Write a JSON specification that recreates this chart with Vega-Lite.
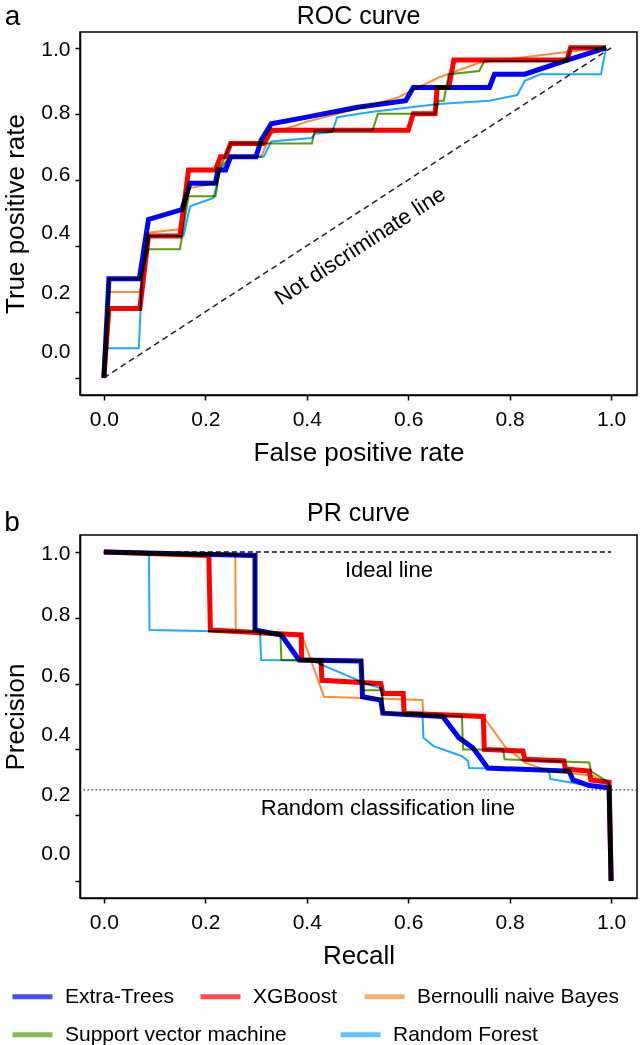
{
  "$schema": "https://vega.github.io/schema/vega-lite/v6.json",
  "padding": {"left": 2, "top": 2, "right": 2, "bottom": 2},
  "background": "white",
  "datasets": {
    "roc": [
      {"model": "Extra-Trees", "step": 0, "fpr": 0, "tpr": 0},
      {"model": "Extra-Trees", "step": 1, "fpr": 0.01, "tpr": 0.30},
      {"model": "Extra-Trees", "step": 2, "fpr": 0.07, "tpr": 0.30},
      {"model": "Extra-Trees", "step": 3, "fpr": 0.088, "tpr": 0.48},
      {"model": "Extra-Trees", "step": 4, "fpr": 0.154, "tpr": 0.51},
      {"model": "Extra-Trees", "step": 5, "fpr": 0.17, "tpr": 0.59},
      {"model": "Extra-Trees", "step": 6, "fpr": 0.22, "tpr": 0.59},
      {"model": "Extra-Trees", "step": 7, "fpr": 0.225, "tpr": 0.63},
      {"model": "Extra-Trees", "step": 8, "fpr": 0.24, "tpr": 0.63},
      {"model": "Extra-Trees", "step": 9, "fpr": 0.25, "tpr": 0.67},
      {"model": "Extra-Trees", "step": 10, "fpr": 0.30, "tpr": 0.67},
      {"model": "Extra-Trees", "step": 11, "fpr": 0.31, "tpr": 0.72},
      {"model": "Extra-Trees", "step": 12, "fpr": 0.33, "tpr": 0.77},
      {"model": "Extra-Trees", "step": 13, "fpr": 0.40, "tpr": 0.79},
      {"model": "Extra-Trees", "step": 14, "fpr": 0.50, "tpr": 0.82},
      {"model": "Extra-Trees", "step": 15, "fpr": 0.595, "tpr": 0.84},
      {"model": "Extra-Trees", "step": 16, "fpr": 0.61, "tpr": 0.88},
      {"model": "Extra-Trees", "step": 17, "fpr": 0.76, "tpr": 0.88},
      {"model": "Extra-Trees", "step": 18, "fpr": 0.77, "tpr": 0.92},
      {"model": "Extra-Trees", "step": 19, "fpr": 0.83, "tpr": 0.92},
      {"model": "Extra-Trees", "step": 20, "fpr": 0.907, "tpr": 0.96},
      {"model": "Extra-Trees", "step": 21, "fpr": 0.99, "tpr": 1.0},
      {"model": "XGBoost", "step": 0, "fpr": 0, "tpr": 0},
      {"model": "XGBoost", "step": 1, "fpr": 0.01, "tpr": 0.21},
      {"model": "XGBoost", "step": 2, "fpr": 0.071, "tpr": 0.21},
      {"model": "XGBoost", "step": 3, "fpr": 0.088, "tpr": 0.43},
      {"model": "XGBoost", "step": 4, "fpr": 0.15, "tpr": 0.43},
      {"model": "XGBoost", "step": 5, "fpr": 0.167, "tpr": 0.63},
      {"model": "XGBoost", "step": 6, "fpr": 0.22, "tpr": 0.63},
      {"model": "XGBoost", "step": 7, "fpr": 0.23, "tpr": 0.67},
      {"model": "XGBoost", "step": 8, "fpr": 0.24, "tpr": 0.67},
      {"model": "XGBoost", "step": 9, "fpr": 0.25, "tpr": 0.71},
      {"model": "XGBoost", "step": 10, "fpr": 0.315, "tpr": 0.71},
      {"model": "XGBoost", "step": 11, "fpr": 0.33, "tpr": 0.75},
      {"model": "XGBoost", "step": 12, "fpr": 0.60, "tpr": 0.75},
      {"model": "XGBoost", "step": 13, "fpr": 0.61, "tpr": 0.80},
      {"model": "XGBoost", "step": 14, "fpr": 0.653, "tpr": 0.80},
      {"model": "XGBoost", "step": 15, "fpr": 0.657, "tpr": 0.88},
      {"model": "XGBoost", "step": 16, "fpr": 0.68, "tpr": 0.88},
      {"model": "XGBoost", "step": 17, "fpr": 0.69, "tpr": 0.963},
      {"model": "XGBoost", "step": 18, "fpr": 0.913, "tpr": 0.963},
      {"model": "XGBoost", "step": 19, "fpr": 0.92, "tpr": 1.0},
      {"model": "XGBoost", "step": 20, "fpr": 0.99, "tpr": 1.0},
      {"model": "Bernoulli naive Bayes", "step": 0, "fpr": 0, "tpr": 0},
      {"model": "Bernoulli naive Bayes", "step": 1, "fpr": 0.01, "tpr": 0.26},
      {"model": "Bernoulli naive Bayes", "step": 2, "fpr": 0.071, "tpr": 0.26},
      {"model": "Bernoulli naive Bayes", "step": 3, "fpr": 0.088, "tpr": 0.44},
      {"model": "Bernoulli naive Bayes", "step": 4, "fpr": 0.148, "tpr": 0.45},
      {"model": "Bernoulli naive Bayes", "step": 5, "fpr": 0.17, "tpr": 0.575},
      {"model": "Bernoulli naive Bayes", "step": 6, "fpr": 0.22, "tpr": 0.59},
      {"model": "Bernoulli naive Bayes", "step": 7, "fpr": 0.23, "tpr": 0.64},
      {"model": "Bernoulli naive Bayes", "step": 8, "fpr": 0.25, "tpr": 0.67},
      {"model": "Bernoulli naive Bayes", "step": 9, "fpr": 0.31, "tpr": 0.67},
      {"model": "Bernoulli naive Bayes", "step": 10, "fpr": 0.33, "tpr": 0.74},
      {"model": "Bernoulli naive Bayes", "step": 11, "fpr": 0.40, "tpr": 0.776},
      {"model": "Bernoulli naive Bayes", "step": 12, "fpr": 0.50, "tpr": 0.815},
      {"model": "Bernoulli naive Bayes", "step": 13, "fpr": 0.58, "tpr": 0.85},
      {"model": "Bernoulli naive Bayes", "step": 14, "fpr": 0.66, "tpr": 0.91},
      {"model": "Bernoulli naive Bayes", "step": 15, "fpr": 0.74, "tpr": 0.955},
      {"model": "Bernoulli naive Bayes", "step": 16, "fpr": 0.90, "tpr": 0.985},
      {"model": "Bernoulli naive Bayes", "step": 17, "fpr": 0.99, "tpr": 1.0},
      {"model": "Support vector machine", "step": 0, "fpr": 0, "tpr": 0},
      {"model": "Support vector machine", "step": 1, "fpr": 0.01, "tpr": 0.30},
      {"model": "Support vector machine", "step": 2, "fpr": 0.071, "tpr": 0.30},
      {"model": "Support vector machine", "step": 3, "fpr": 0.088, "tpr": 0.39},
      {"model": "Support vector machine", "step": 4, "fpr": 0.15, "tpr": 0.39},
      {"model": "Support vector machine", "step": 5, "fpr": 0.167, "tpr": 0.55},
      {"model": "Support vector machine", "step": 6, "fpr": 0.22, "tpr": 0.55},
      {"model": "Support vector machine", "step": 7, "fpr": 0.23, "tpr": 0.64},
      {"model": "Support vector machine", "step": 8, "fpr": 0.25, "tpr": 0.71},
      {"model": "Support vector machine", "step": 9, "fpr": 0.41, "tpr": 0.71},
      {"model": "Support vector machine", "step": 10, "fpr": 0.416, "tpr": 0.75},
      {"model": "Support vector machine", "step": 11, "fpr": 0.53, "tpr": 0.75},
      {"model": "Support vector machine", "step": 12, "fpr": 0.54, "tpr": 0.80},
      {"model": "Support vector machine", "step": 13, "fpr": 0.653, "tpr": 0.80},
      {"model": "Support vector machine", "step": 14, "fpr": 0.66, "tpr": 0.84},
      {"model": "Support vector machine", "step": 15, "fpr": 0.67, "tpr": 0.84},
      {"model": "Support vector machine", "step": 16, "fpr": 0.68, "tpr": 0.92},
      {"model": "Support vector machine", "step": 17, "fpr": 0.74, "tpr": 0.93},
      {"model": "Support vector machine", "step": 18, "fpr": 0.75, "tpr": 0.96},
      {"model": "Support vector machine", "step": 19, "fpr": 0.913, "tpr": 0.96},
      {"model": "Support vector machine", "step": 20, "fpr": 0.92, "tpr": 1.0},
      {"model": "Support vector machine", "step": 21, "fpr": 0.99, "tpr": 1.0},
      {"model": "Random Forest", "step": 0, "fpr": 0, "tpr": 0},
      {"model": "Random Forest", "step": 1, "fpr": 0.006, "tpr": 0.09},
      {"model": "Random Forest", "step": 2, "fpr": 0.069, "tpr": 0.09},
      {"model": "Random Forest", "step": 3, "fpr": 0.075, "tpr": 0.30},
      {"model": "Random Forest", "step": 4, "fpr": 0.09, "tpr": 0.43},
      {"model": "Random Forest", "step": 5, "fpr": 0.157, "tpr": 0.43},
      {"model": "Random Forest", "step": 6, "fpr": 0.17, "tpr": 0.52},
      {"model": "Random Forest", "step": 7, "fpr": 0.216, "tpr": 0.545},
      {"model": "Random Forest", "step": 8, "fpr": 0.23, "tpr": 0.63},
      {"model": "Random Forest", "step": 9, "fpr": 0.25, "tpr": 0.67},
      {"model": "Random Forest", "step": 10, "fpr": 0.315, "tpr": 0.67},
      {"model": "Random Forest", "step": 11, "fpr": 0.33, "tpr": 0.716},
      {"model": "Random Forest", "step": 12, "fpr": 0.41, "tpr": 0.727},
      {"model": "Random Forest", "step": 13, "fpr": 0.416, "tpr": 0.74},
      {"model": "Random Forest", "step": 14, "fpr": 0.45, "tpr": 0.745},
      {"model": "Random Forest", "step": 15, "fpr": 0.46, "tpr": 0.79},
      {"model": "Random Forest", "step": 16, "fpr": 0.53, "tpr": 0.806},
      {"model": "Random Forest", "step": 17, "fpr": 0.66, "tpr": 0.83},
      {"model": "Random Forest", "step": 18, "fpr": 0.76, "tpr": 0.84},
      {"model": "Random Forest", "step": 19, "fpr": 0.815, "tpr": 0.857},
      {"model": "Random Forest", "step": 20, "fpr": 0.83, "tpr": 0.90},
      {"model": "Random Forest", "step": 21, "fpr": 0.86, "tpr": 0.92},
      {"model": "Random Forest", "step": 22, "fpr": 0.98, "tpr": 0.92},
      {"model": "Random Forest", "step": 23, "fpr": 0.99, "tpr": 1.0}
    ],
    "pr": [
      {"model": "Extra-Trees", "step": 0, "recall": 0, "precision": 1.0},
      {"model": "Extra-Trees", "step": 1, "recall": 0.15, "precision": 0.995},
      {"model": "Extra-Trees", "step": 2, "recall": 0.298, "precision": 0.99},
      {"model": "Extra-Trees", "step": 3, "recall": 0.298, "precision": 0.763},
      {"model": "Extra-Trees", "step": 4, "recall": 0.35, "precision": 0.748},
      {"model": "Extra-Trees", "step": 5, "recall": 0.385, "precision": 0.672},
      {"model": "Extra-Trees", "step": 6, "recall": 0.507, "precision": 0.669},
      {"model": "Extra-Trees", "step": 7, "recall": 0.51, "precision": 0.56},
      {"model": "Extra-Trees", "step": 8, "recall": 0.546, "precision": 0.55},
      {"model": "Extra-Trees", "step": 9, "recall": 0.55, "precision": 0.51},
      {"model": "Extra-Trees", "step": 10, "recall": 0.668, "precision": 0.50},
      {"model": "Extra-Trees", "step": 11, "recall": 0.70, "precision": 0.435},
      {"model": "Extra-Trees", "step": 12, "recall": 0.728, "precision": 0.404},
      {"model": "Extra-Trees", "step": 13, "recall": 0.757, "precision": 0.343},
      {"model": "Extra-Trees", "step": 14, "recall": 0.917, "precision": 0.334},
      {"model": "Extra-Trees", "step": 15, "recall": 0.925, "precision": 0.307},
      {"model": "Extra-Trees", "step": 16, "recall": 0.957, "precision": 0.29},
      {"model": "Extra-Trees", "step": 17, "recall": 0.996, "precision": 0.283},
      {"model": "Extra-Trees", "step": 18, "recall": 1.0, "precision": 0.0},
      {"model": "XGBoost", "step": 0, "recall": 0, "precision": 1.0},
      {"model": "XGBoost", "step": 1, "recall": 0.207, "precision": 0.99},
      {"model": "XGBoost", "step": 2, "recall": 0.21, "precision": 0.763},
      {"model": "XGBoost", "step": 3, "recall": 0.389, "precision": 0.748},
      {"model": "XGBoost", "step": 4, "recall": 0.39, "precision": 0.672},
      {"model": "XGBoost", "step": 5, "recall": 0.428, "precision": 0.67},
      {"model": "XGBoost", "step": 6, "recall": 0.43, "precision": 0.61},
      {"model": "XGBoost", "step": 7, "recall": 0.546, "precision": 0.60},
      {"model": "XGBoost", "step": 8, "recall": 0.55, "precision": 0.57},
      {"model": "XGBoost", "step": 9, "recall": 0.59, "precision": 0.57},
      {"model": "XGBoost", "step": 10, "recall": 0.592, "precision": 0.51},
      {"model": "XGBoost", "step": 11, "recall": 0.748, "precision": 0.50},
      {"model": "XGBoost", "step": 12, "recall": 0.75, "precision": 0.40},
      {"model": "XGBoost", "step": 13, "recall": 0.826, "precision": 0.395},
      {"model": "XGBoost", "step": 14, "recall": 0.83, "precision": 0.37},
      {"model": "XGBoost", "step": 15, "recall": 0.907, "precision": 0.365},
      {"model": "XGBoost", "step": 16, "recall": 0.91, "precision": 0.34},
      {"model": "XGBoost", "step": 17, "recall": 0.957, "precision": 0.334},
      {"model": "XGBoost", "step": 18, "recall": 0.96, "precision": 0.307},
      {"model": "XGBoost", "step": 19, "recall": 0.996, "precision": 0.30},
      {"model": "XGBoost", "step": 20, "recall": 1.0, "precision": 0.0},
      {"model": "Bernoulli naive Bayes", "step": 0, "recall": 0, "precision": 1.0},
      {"model": "Bernoulli naive Bayes", "step": 1, "recall": 0.259, "precision": 0.995},
      {"model": "Bernoulli naive Bayes", "step": 2, "recall": 0.26, "precision": 0.763},
      {"model": "Bernoulli naive Bayes", "step": 3, "recall": 0.39, "precision": 0.75},
      {"model": "Bernoulli naive Bayes", "step": 4, "recall": 0.434, "precision": 0.56},
      {"model": "Bernoulli naive Bayes", "step": 5, "recall": 0.628, "precision": 0.55},
      {"model": "Bernoulli naive Bayes", "step": 6, "recall": 0.63, "precision": 0.50},
      {"model": "Bernoulli naive Bayes", "step": 7, "recall": 0.748, "precision": 0.50},
      {"model": "Bernoulli naive Bayes", "step": 8, "recall": 0.79, "precision": 0.41},
      {"model": "Bernoulli naive Bayes", "step": 9, "recall": 0.83, "precision": 0.36},
      {"model": "Bernoulli naive Bayes", "step": 10, "recall": 0.877, "precision": 0.334},
      {"model": "Bernoulli naive Bayes", "step": 11, "recall": 0.964, "precision": 0.32},
      {"model": "Bernoulli naive Bayes", "step": 12, "recall": 0.996, "precision": 0.29},
      {"model": "Bernoulli naive Bayes", "step": 13, "recall": 1.0, "precision": 0.0},
      {"model": "Support vector machine", "step": 0, "recall": 0, "precision": 1.0},
      {"model": "Support vector machine", "step": 1, "recall": 0.298, "precision": 0.99},
      {"model": "Support vector machine", "step": 2, "recall": 0.298, "precision": 0.763},
      {"model": "Support vector machine", "step": 3, "recall": 0.348, "precision": 0.75},
      {"model": "Support vector machine", "step": 4, "recall": 0.35, "precision": 0.672},
      {"model": "Support vector machine", "step": 5, "recall": 0.508, "precision": 0.669},
      {"model": "Support vector machine", "step": 6, "recall": 0.51, "precision": 0.58},
      {"model": "Support vector machine", "step": 7, "recall": 0.548, "precision": 0.58},
      {"model": "Support vector machine", "step": 8, "recall": 0.55, "precision": 0.51},
      {"model": "Support vector machine", "step": 9, "recall": 0.706, "precision": 0.50},
      {"model": "Support vector machine", "step": 10, "recall": 0.708, "precision": 0.40},
      {"model": "Support vector machine", "step": 11, "recall": 0.787, "precision": 0.40},
      {"model": "Support vector machine", "step": 12, "recall": 0.79, "precision": 0.37},
      {"model": "Support vector machine", "step": 13, "recall": 0.957, "precision": 0.36},
      {"model": "Support vector machine", "step": 14, "recall": 0.96, "precision": 0.334},
      {"model": "Support vector machine", "step": 15, "recall": 0.996, "precision": 0.298},
      {"model": "Support vector machine", "step": 16, "recall": 1.0, "precision": 0.0},
      {"model": "Random Forest", "step": 0, "recall": 0, "precision": 1.0},
      {"model": "Random Forest", "step": 1, "recall": 0.089, "precision": 0.993},
      {"model": "Random Forest", "step": 2, "recall": 0.09, "precision": 0.763},
      {"model": "Random Forest", "step": 3, "recall": 0.308, "precision": 0.757},
      {"model": "Random Forest", "step": 4, "recall": 0.31, "precision": 0.672},
      {"model": "Random Forest", "step": 5, "recall": 0.41, "precision": 0.67},
      {"model": "Random Forest", "step": 6, "recall": 0.517, "precision": 0.60},
      {"model": "Random Forest", "step": 7, "recall": 0.548, "precision": 0.585},
      {"model": "Random Forest", "step": 8, "recall": 0.552, "precision": 0.51},
      {"model": "Random Forest", "step": 9, "recall": 0.628, "precision": 0.51},
      {"model": "Random Forest", "step": 10, "recall": 0.63, "precision": 0.435},
      {"model": "Random Forest", "step": 11, "recall": 0.65, "precision": 0.41},
      {"model": "Random Forest", "step": 12, "recall": 0.705, "precision": 0.38},
      {"model": "Random Forest", "step": 13, "recall": 0.718, "precision": 0.365},
      {"model": "Random Forest", "step": 14, "recall": 0.72, "precision": 0.343},
      {"model": "Random Forest", "step": 15, "recall": 0.877, "precision": 0.34},
      {"model": "Random Forest", "step": 16, "recall": 0.88, "precision": 0.31},
      {"model": "Random Forest", "step": 17, "recall": 0.917, "precision": 0.30},
      {"model": "Random Forest", "step": 18, "recall": 0.957, "precision": 0.29},
      {"model": "Random Forest", "step": 19, "recall": 0.996, "precision": 0.283},
      {"model": "Random Forest", "step": 20, "recall": 1.0, "precision": 0.0}
    ]
  },
  "vconcat": [
    {
      "width": 557,
      "height": 363,
      "title": {"text": "ROC curve", "offset": -26},
      "layer": [
        {
          "data": {"name": "roc"},
          "transform": [{"filter": "datum.model == 'Support vector machine' || datum.model == 'Random Forest'"}],
          "mark": {"type": "line", "strokeWidth": 2, "blend": "multiply"},
          "encoding": {
            "x": {"field": "fpr", "type": "quantitative", "scale": {"domain": [-0.047, 1.051], "nice": false, "zero": false},
              "axis": {"title": "False positive rate", "values": [0, 0.2, 0.4, 0.6, 0.8, 1], "format": ".1f"}},
            "y": {"field": "tpr", "type": "quantitative", "scale": {"domain": [-0.052, 1.048], "nice": false, "zero": false},
              "axis": {"title": "True positive rate", "values": [0, 0.2, 0.4, 0.6, 0.8, 1], "format": ".1f",
                "labelOffset": {"condition": [
                  {"test": "datum.value > 0.9", "value": 2},
                  {"test": "datum.value > 0.7", "value": -1},
                  {"test": "datum.value > 0.5", "value": -5},
                  {"test": "datum.value > 0.3", "value": -13},
                  {"test": "datum.value > 0.1", "value": -19}
                ], "value": -26}}},
            "color": {"field": "model", "type": "nominal",
              "scale": {"domain": ["Support vector machine", "Random Forest"], "range": ["#5b9b0f", "#1fa9ff"]},
              "legend": {"orient": "none", "legendX": -70, "legendY": 980, "direction": "horizontal", "columnPadding": 43}},
            "order": {"field": "step", "type": "quantitative"}
          }
        },
        {
          "data": {"name": "roc"},
          "transform": [{"filter": "datum.model == 'Bernoulli naive Bayes'"}],
          "mark": {"type": "line", "strokeWidth": 2, "blend": "multiply"},
          "encoding": {
            "x": {"field": "fpr", "type": "quantitative"},
            "y": {"field": "tpr", "type": "quantitative"},
            "stroke": {"field": "model", "type": "nominal",
              "scale": {"domain": ["Extra-Trees", "XGBoost", "Bernoulli naive Bayes"], "range": ["#0000ff", "#ff0000", "#f5913a"]},
              "legend": {"orient": "none", "legendX": -70, "legendY": 942, "direction": "horizontal", "columnPadding": 16}},
            "order": {"field": "step", "type": "quantitative"}
          }
        },
        {
          "data": {"name": "roc"},
          "transform": [{"filter": "datum.model == 'Extra-Trees' || datum.model == 'XGBoost'"}],
          "mark": {"type": "line", "strokeWidth": 5, "blend": "multiply"},
          "encoding": {
            "x": {"field": "fpr", "type": "quantitative"},
            "y": {"field": "tpr", "type": "quantitative"},
            "stroke": {"field": "model", "type": "nominal"},
            "order": {"field": "step", "type": "quantitative"}
          }
        },
        {
          "data": {"values": [{}]},
          "mark": {"type": "rule", "strokeDash": [6, 4], "strokeWidth": 1.5, "color": "#222222"},
          "encoding": {"x": {"datum": 0}, "y": {"datum": 0}, "x2": {"datum": 1}, "y2": {"datum": 1}}
        },
        {
          "data": {"values": [{}]},
          "mark": {"type": "text", "text": "Not discriminate line", "angle": -33, "fontSize": 22, "align": "center", "baseline": "middle", "color": "black"},
          "encoding": {"x": {"datum": 0.505}, "y": {"datum": 0.40}}
        },
        {
          "data": {"values": [{}]},
          "mark": {"type": "text", "text": "a", "fontSize": 28, "align": "center", "baseline": "middle", "clip": false, "color": "black"},
          "encoding": {"x": {"datum": -0.18}, "y": {"datum": 1.094}}
        }
      ]
    },
    {
      "width": 557,
      "height": 363,
      "title": {"text": "PR curve", "offset": -17},
      "layer": [
        {
          "data": {"name": "pr"},
          "transform": [{"filter": "datum.model == 'Support vector machine' || datum.model == 'Random Forest'"}],
          "mark": {"type": "line", "strokeWidth": 2, "blend": "multiply"},
          "encoding": {
            "x": {"field": "recall", "type": "quantitative", "scale": {"domain": [-0.047, 1.051], "nice": false, "zero": false},
              "axis": {"title": "Recall", "values": [0, 0.2, 0.4, 0.6, 0.8, 1], "format": ".1f"}},
            "y": {"field": "precision", "type": "quantitative", "scale": {"domain": [-0.052, 1.052], "nice": false, "zero": false},
              "axis": {"title": "Precision", "values": [0, 0.2, 0.4, 0.6, 0.8, 1], "format": ".1f",
                "labelOffset": {"condition": [
                  {"test": "datum.value > 0.9", "value": 1},
                  {"test": "datum.value > 0.7", "value": -3},
                  {"test": "datum.value > 0.5", "value": -8},
                  {"test": "datum.value > 0.3", "value": -15},
                  {"test": "datum.value > 0.1", "value": -21}
                ], "value": -27}}},
            "color": {"field": "model", "type": "nominal"},
            "order": {"field": "step", "type": "quantitative"}
          }
        },
        {
          "data": {"name": "pr"},
          "transform": [{"filter": "datum.model == 'Bernoulli naive Bayes'"}],
          "mark": {"type": "line", "strokeWidth": 2, "blend": "multiply"},
          "encoding": {
            "x": {"field": "recall", "type": "quantitative"},
            "y": {"field": "precision", "type": "quantitative"},
            "stroke": {"field": "model", "type": "nominal"},
            "order": {"field": "step", "type": "quantitative"}
          }
        },
        {
          "data": {"name": "pr"},
          "transform": [{"filter": "datum.model == 'Extra-Trees' || datum.model == 'XGBoost'"}],
          "mark": {"type": "line", "strokeWidth": 5, "blend": "multiply"},
          "encoding": {
            "x": {"field": "recall", "type": "quantitative"},
            "y": {"field": "precision", "type": "quantitative"},
            "stroke": {"field": "model", "type": "nominal"},
            "order": {"field": "step", "type": "quantitative"}
          }
        },
        {
          "data": {"values": [{}]},
          "mark": {"type": "rule", "strokeDash": [5, 3], "strokeWidth": 1.5, "color": "#111111"},
          "encoding": {"x": {"datum": 0}, "x2": {"datum": 1}, "y": {"datum": 1}}
        },
        {
          "data": {"values": [{}]},
          "mark": {"type": "rule", "strokeDash": [1.5, 2.5], "strokeWidth": 1.2, "color": "#333333"},
          "encoding": {"y": {"datum": 0.277}}
        },
        {
          "data": {"values": [{}]},
          "mark": {"type": "text", "text": "Ideal line", "fontSize": 22, "align": "center", "baseline": "middle", "color": "black"},
          "encoding": {"x": {"datum": 0.562}, "y": {"datum": 0.945}}
        },
        {
          "data": {"values": [{}]},
          "mark": {"type": "text", "text": "Random classification line", "fontSize": 22, "align": "center", "baseline": "middle", "color": "black"},
          "encoding": {"x": {"datum": 0.56}, "y": {"datum": 0.222}}
        },
        {
          "data": {"values": [{}]},
          "mark": {"type": "text", "text": "b", "fontSize": 28, "align": "center", "baseline": "middle", "clip": false, "color": "black"},
          "encoding": {"x": {"datum": -0.181}, "y": {"datum": 1.088}}
        }
      ]
    }
  ],
  "spacing": 34,
  "config": {
    "font": "Liberation Sans",
    "view": {"stroke": "black", "strokeWidth": 1.5},
    "axis": {
      "grid": false,
      "domainColor": "black",
      "domainWidth": 1.5,
      "tickColor": "black",
      "tickWidth": 1.5,
      "tickSize": 5,
      "labelFontSize": 21,
      "labelColor": "black",
      "labelPadding": 5,
      "titleFontSize": 26,
      "titleFontWeight": "normal",
      "titleColor": "black"
    },
    "axisX": {"titlePadding": 10, "labelPadding": 8},
    "axisY": {"titlePadding": 12},
    "legend": {
      "title": null,
      "symbolType": "stroke",
      "symbolSize": 1600,
      "symbolStrokeWidth": 5,
      "symbolOpacity": 0.7,
      "labelFontSize": 21,
      "labelColor": "black",
      "labelLimit": 400,
      "labelOffset": 10
    },
    "title": {"fontSize": 25, "fontWeight": "normal", "color": "black"}
  }
}
